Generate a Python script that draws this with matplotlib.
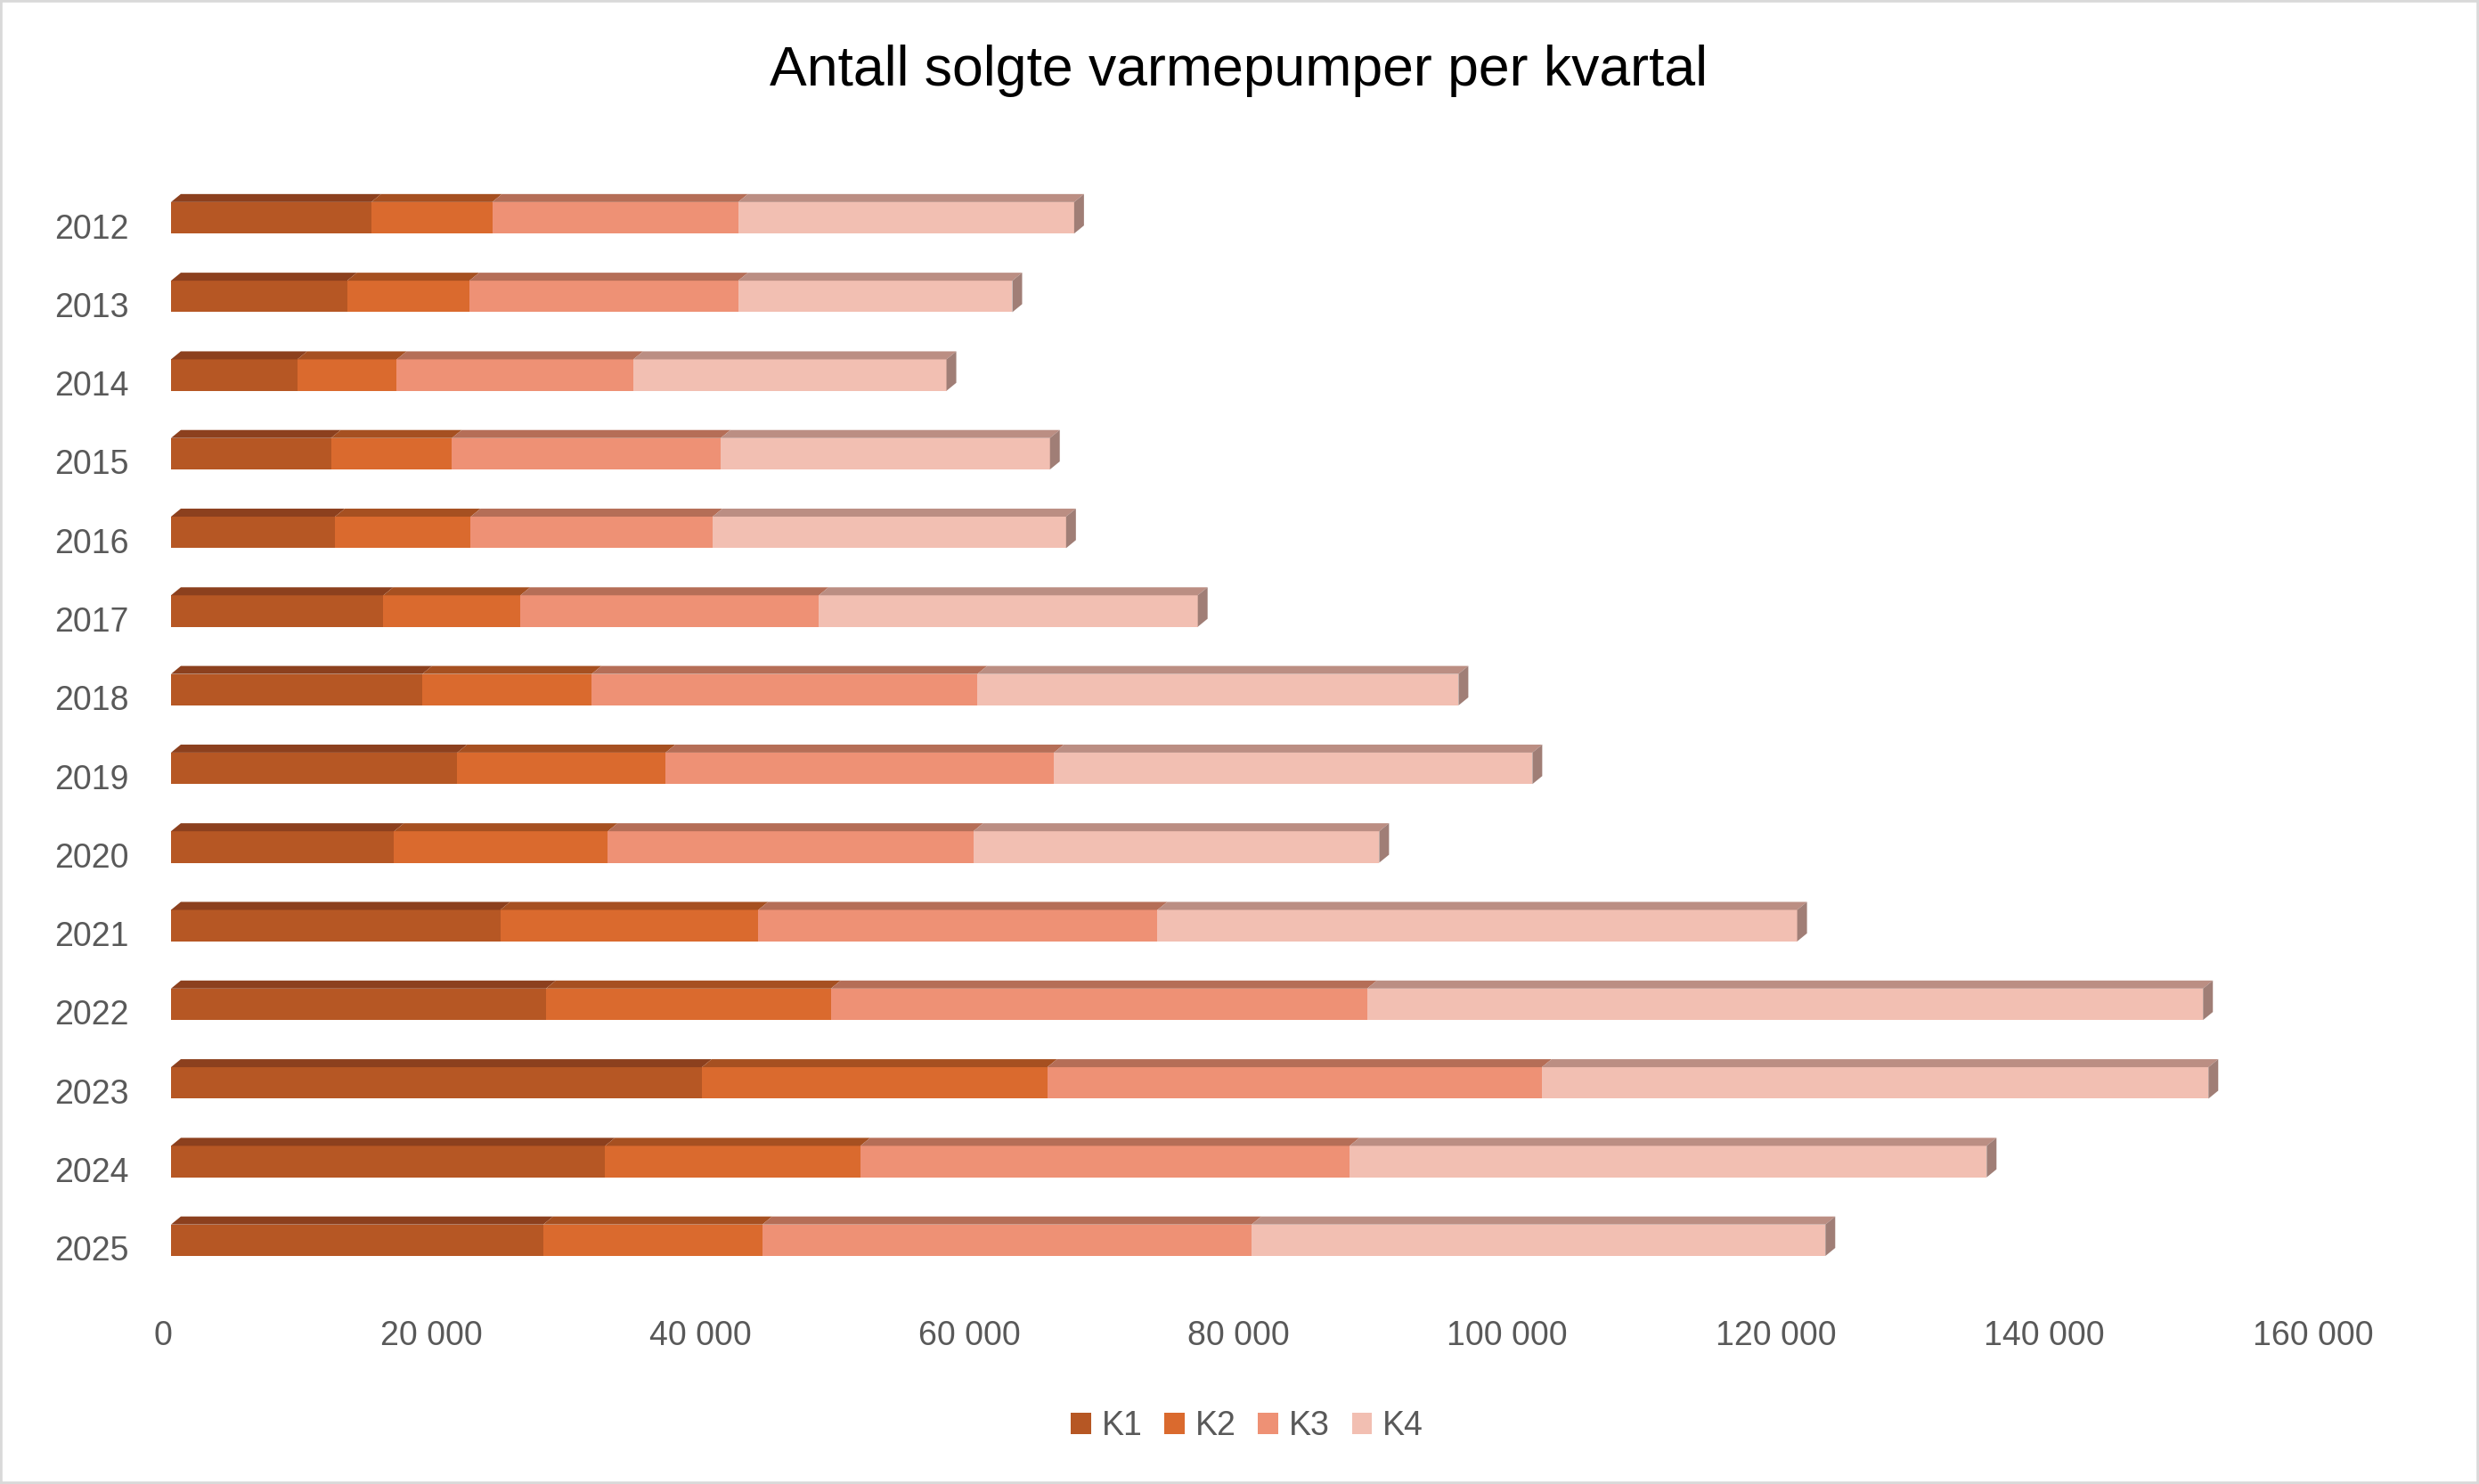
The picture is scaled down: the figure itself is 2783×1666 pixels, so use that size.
#!/usr/bin/env python3
# -*- coding: utf-8 -*-
"""
Antall solgte varmepumper per kvartal - stablet liggende stolpediagram med 3D-preg
"""

import numpy as np
import matplotlib
matplotlib.use('Agg')
import matplotlib.pyplot as plt
from matplotlib.patches import Polygon, Rectangle
from matplotlib.transforms import ScaledTranslation

plt.rcParams['font.family'] = ['Liberation Sans', 'DejaVu Sans']

# data lest av figuren
years = ['2012', '2013', '2014', '2015', '2016', '2017', '2018',
         '2019', '2020', '2021', '2022', '2023', '2024', '2025']
k1 = [14900, 13100, 9400, 11900, 12200, 15800, 18700, 21300, 16600, 24500, 27900, 39500, 32300, 27700]
k2 = [9000, 9100, 7400, 9000, 10100, 10200, 12600, 15500, 15900, 19200, 21200, 25700, 19000, 16300]
k3 = [18300, 20000, 17600, 20000, 18000, 22200, 28700, 28900, 27200, 29700, 39900, 36800, 36400, 36400]
k4 = [25000, 20400, 23300, 24500, 26300, 28200, 35800, 35600, 30200, 47600, 62200, 49600, 47400, 42700]
series_names = ['K1', 'K2', 'K3', 'K4']
x_ticks = [0, 20000, 40000, 60000, 80000, 100000, 120000, 140000, 160000]

front_colors = ['#B65724', '#DA6A2E', '#EE9175', '#F2BFB2']
top_colors = ['#8C401E', '#A65021', '#B56E57', '#BB8E83']
side_color = '#A07E76'
text_color = '#595959'

W, H, DPI = 2783, 1666, 100


def draw_bars(ax, series):
    """tegner front, topp og hoeyre side for hver stolpe"""
    n = len(years)
    y = np.arange(n)
    bar_h = 0.40
    # dybde i piksler -> dataenheter
    dx = 11 * 160000 / 2414
    dy = 9 / 88.3

    left = np.zeros(n)
    for i, vals in enumerate(series):
        vals = np.array(vals, dtype=float)
        ax.barh(y, vals, left=left, height=bar_h, color=front_colors[i],
                edgecolor='none', label=series_names[i], zorder=2)
        for j in range(n):
            l = left[j]
            r = left[j] + vals[j]
            yt = y[j] - bar_h / 2
            top = Polygon([(l, yt), (l + dx, yt - dy), (r + dx, yt - dy), (r, yt)],
                          closed=True, facecolor=top_colors[i], edgecolor='none', zorder=2)
            ax.add_patch(top)
            if i == len(series) - 1:
                yb = y[j] + bar_h / 2
                side = Polygon([(r, yt), (r + dx, yt - dy), (r + dx, yb - dy), (r, yb)],
                               closed=True, facecolor=side_color, edgecolor='none', zorder=2)
                ax.add_patch(side)
        left = left + vals


def main():
    fig = plt.figure(figsize=(W / DPI, H / DPI), dpi=DPI)
    ax = fig.add_axes([192 / W, 1 - 1440 / H, (2606 - 192) / W, 1240 / H])

    draw_bars(ax, [k1, k2, k3, k4])

    ax.set_xlim(0, 160000)
    ax.set_ylim(13.54, -0.504)
    ax.set_yticks(np.arange(len(years)))
    ax.set_yticklabels(years)
    ax.set_xticks(x_ticks)
    ax.set_xticklabels([f"{v:,}".replace(',', ' ') for v in x_ticks])
    ax.tick_params(axis='both', length=0, labelsize=27, labelcolor=text_color)
    ax.tick_params(axis='y', pad=34)
    ax.tick_params(axis='x', pad=30)
    for s in ax.spines.values():
        s.set_visible(False)

    # aksetekstene sitter litt forskjoevet i forhold til stolpene
    for lab in ax.get_xticklabels():
        lab.set_transform(lab.get_transform() + ScaledTranslation(-9 / DPI, 0, fig.dpi_scale_trans))
    for lab in ax.get_yticklabels():
        lab.set_transform(lab.get_transform() + ScaledTranslation(0, -9 / DPI, fig.dpi_scale_trans))

    fig.text(1391 / W, 1 - 96 / H, 'Antall solgte varmepumper per kvartal',
             ha='center', va='baseline', fontsize=45, color='#000000')

    fig.legend(loc='center', bbox_to_anchor=(1400 / W, 1 - 1601 / H), ncol=4,
               frameon=False, fontsize=27, labelcolor=text_color,
               handlelength=0.6, handleheight=0.6, handletextpad=0.32,
               columnspacing=0.66, borderpad=0)

    # tynn graa ramme rundt hele figuren
    fig.patches.append(Rectangle((0, 0), 1, 1, transform=fig.transFigure,
                                 facecolor='none', edgecolor='#D9D9D9', linewidth=4))

    fig.savefig('out.png', dpi=DPI, facecolor='white')


if __name__ == "__main__":
    main()
